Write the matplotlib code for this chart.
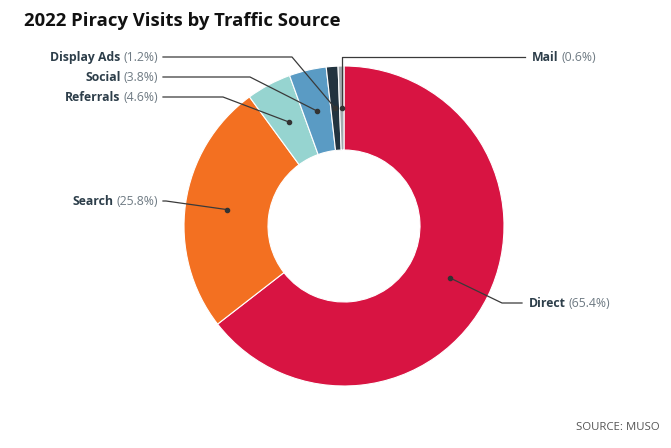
#!/usr/bin/env python3
"""Donut chart of 2022 piracy visits split by traffic source."""

import matplotlib
matplotlib.use("Agg")
import matplotlib.pyplot as plt
import numpy as np

sources = ["Direct", "Search", "Referrals", "Social", "Display Ads", "Mail"]
shares = [65.4, 25.8, 4.6, 3.8, 1.2, 0.6]
colors = ["#D81442", "#F37021", "#96D4D0", "#5A9BC4", "#22333F", "#A3AAAE"]

# label layout in pixel space (from top-left): side, text y, elbow x
label_side = ["right", "left", "left", "left", "left", "right"]
label_y = [303, 201, 97, 77, 57, 57]
elbow_x = [502, 166, 223, 250, 292, None]

W, H = 671, 448
CX, CY = 344, 226
R_OUT, R_IN = 160, 76

plt.rcParams["font.family"] = ["Open Sans", "DejaVu Sans"]
fig = plt.figure(figsize=(W / 100, H / 100), dpi=100)
ax = fig.add_axes([0, 0, 1, 1])

wedges, _ = ax.pie(
    shares,
    colors=colors,
    startangle=90,
    counterclock=False,
    center=(CX, H - CY),
    radius=R_OUT,
    wedgeprops=dict(width=R_OUT - R_IN, edgecolor="white", linewidth=0.8),
)
ax.set_xlim(0, W)
ax.set_ylim(0, H)
ax.set_aspect("equal")
ax.axis("off")

fig.canvas.draw()
renderer = fig.canvas.get_renderer()
line_col = "#3a3a3a"
name_col = "#2D3E4A"
pct_col = "#6E7A83"
r_mid = (R_OUT + R_IN) / 2

for w, name, val, side, ty, ex in zip(wedges, sources, shares, label_side, label_y, elbow_x):
    ang = np.deg2rad((w.theta1 + w.theta2) / 2)
    dx = w.center[0] + r_mid * np.cos(ang)
    dy = w.center[1] + r_mid * np.sin(ang)
    ty = H - ty
    ax.plot(dx, dy, "o", color="#333333", markersize=3, zorder=5)
    if ex is None:
        ex = dx
    if side == "left":
        xs = [163, ex, dx]
        ax.plot(xs, [ty, ty, dy], color=line_col, lw=0.9, zorder=4)
        t = ax.text(158, ty, f"({val}%)", ha="right", va="center",
                    fontsize=8.8, color=pct_col)
        bb = t.get_window_extent(renderer)
        ax.text(bb.x0 - 3, ty, name, ha="right", va="center",
                fontsize=8.8, fontweight="bold", color=name_col)
    else:
        end = 522 if name != "Mail" else 525
        ax.plot([dx, ex, end], [dy, ty, ty], color=line_col, lw=0.9, zorder=4)
        t = ax.text(end + 7, ty, name, ha="left", va="center",
                    fontsize=8.8, fontweight="bold", color=name_col)
        bb = t.get_window_extent(renderer)
        ax.text(bb.x1 + 3, ty, f"({val}%)", ha="left", va="center",
                fontsize=8.8, color=pct_col)

fig.text(24 / W, 1 - 21 / H, "2022 Piracy Visits by Traffic Source",
         ha="left", va="center", fontsize=13.3, fontweight="bold", color="#111111")
fig.text(660 / W, 1 - 427 / H, "SOURCE: MUSO", ha="right", va="center",
         fontsize=8.2, color="#555555")

fig.savefig("out.png", dpi=100)
